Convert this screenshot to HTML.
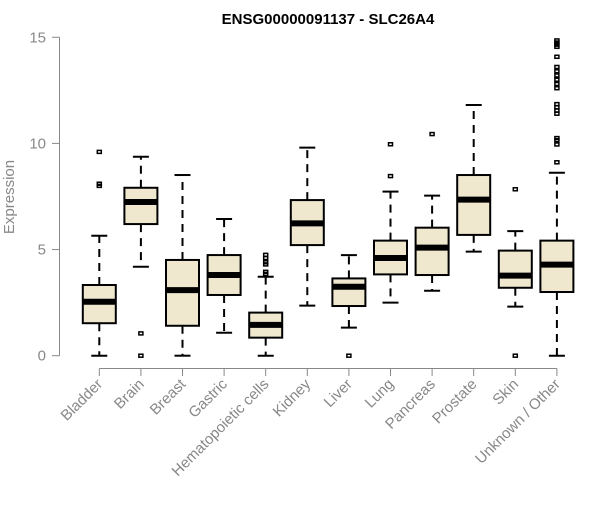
<!DOCTYPE html>
<html><head><meta charset="utf-8"><style>
body{margin:0;background:#fff}
svg text{font-family:"Liberation Sans",Arial,sans-serif}
</style></head><body>
<svg id="chart" width="600" height="500" xmlns="http://www.w3.org/2000/svg">
<text x="328" y="24" text-anchor="middle" font-size="15" font-weight="bold">ENSG00000091137 - SLC26A4</text>
<text transform="translate(14,197) rotate(-90)" text-anchor="middle" font-size="15" fill="#888">Expression</text>
<g id="axes"></g><g id="boxes"></g>
</svg>
<script>
const categories=["Bladder","Brain","Breast","Gastric","Hematopoietic cells","Kidney","Liver","Lung","Pancreas","Prostate","Skin","Unknown / Other"];
const lowWhisker=[0,4.19,0,1.08,0,2.36,1.32,2.5,3.06,4.9,2.31,0];
const q1=[1.53,6.2,1.41,2.86,0.85,5.21,2.34,3.83,3.8,5.69,3.2,3.0];
const medians=[2.54,7.24,3.09,3.8,1.45,6.23,3.25,4.6,5.09,7.35,3.77,4.29];
const q3=[3.33,7.91,4.51,4.74,2.03,7.33,3.64,5.42,6.03,8.51,4.95,5.42];
const highWhisker=[5.65,9.37,8.51,6.44,3.72,9.8,4.74,7.73,7.54,11.81,5.87,8.62];
const outliers=[[9.6,8.1,8.0],[1.05,0],[],[],[4.75,4.6,4.4,4.3,3.95,3.85],[],[0],[9.96,8.46],[10.44],[],[7.84,0],[9.11,9.95,10.15,10.25,11.4,11.55,11.7,11.85,12.6,12.8,13.0,13.2,13.4,13.6,14.08,14.55,14.65,14.75,14.85]];
const yTicks=[0,5,10,15];
const NS="http://www.w3.org/2000/svg";
const y=v=>355.7-v*21.23;
const x=i=>99.3+i*41.6;
function mk(tag,attrs,parent){const e=document.createElementNS(NS,tag);for(const k in attrs)e.setAttribute(k,attrs[k]);parent.appendChild(e);return e;}
const ax=document.getElementById('axes'),bx=document.getElementById('boxes');
let yl=mk('line',{x1:59.5,x2:59.5,y1:y(0),y2:y(15),stroke:'#888'},ax);


yTicks.forEach(t=>{
  const tk=mk('line',{x1:52,x2:59.5,y1:y(t),y2:y(t),stroke:'#888'},ax);
  
  
  const tx=mk('text',{x:46,y:y(t)+5,'text-anchor':'end','font-size':15,fill:'#888'},ax);
  tx.textContent=t;
  
  
});
let xl=mk('line',{x1:x(0),x2:x(categories.length-1),y1:368.5,y2:368.5,stroke:'#888'},ax);


categories.forEach((c,i)=>{
  const cx=x(i);
  const tk=mk('line',{x1:cx,x2:cx,y1:368.5,y2:376,stroke:'#888'},ax);
  
  
  const tx=mk('text',{transform:`translate(${cx+4},${385}) rotate(-45)`,'text-anchor':'end','font-size':15,fill:'#888'},ax);
  tx.textContent=c;
  
  
  const g=mk('g',{},bx);
  
  
  const dash={stroke:'#000','stroke-width':2,'stroke-dasharray':'8,6'};
  mk('line',Object.assign({x1:cx,x2:cx,y1:y(q3[i]),y2:y(highWhisker[i])},dash),g);
  mk('line',Object.assign({x1:cx,x2:cx,y1:y(q1[i]),y2:y(lowWhisker[i])},dash),g);
  mk('line',{x1:cx-8,x2:cx+8,y1:y(highWhisker[i]),y2:y(highWhisker[i]),stroke:'#000','stroke-width':2},g);
  mk('line',{x1:cx-8,x2:cx+8,y1:y(lowWhisker[i]),y2:y(lowWhisker[i]),stroke:'#000','stroke-width':2},g);
  mk('rect',{x:cx-16.5,y:y(q3[i]),width:33,height:y(q1[i])-y(q3[i]),fill:'#efe8cf',stroke:'#000','stroke-width':2},g);
  mk('line',{x1:cx-16.5,x2:cx+16.5,y1:y(medians[i]),y2:y(medians[i]),stroke:'#000','stroke-width':6},g);
  outliers[i].forEach(o=>{
    const p=mk('rect',{x:cx-2,y:y(o)-1.5,width:4,height:3,fill:'none',stroke:'#000','stroke-width':1.5},g);
    
    
  });
});
</script>
</body></html>
